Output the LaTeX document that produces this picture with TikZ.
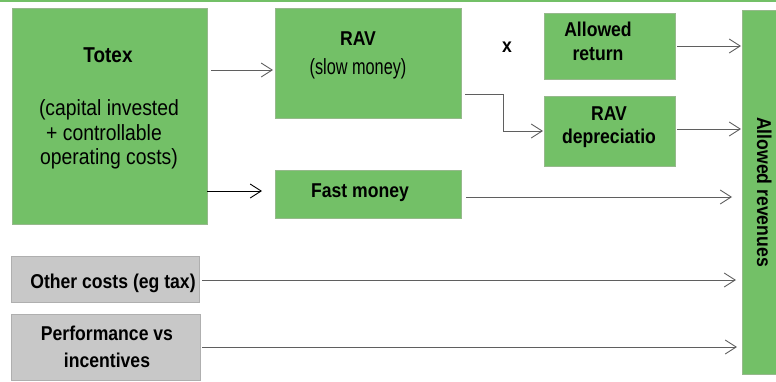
\documentclass[tikz,border=0pt]{standalone}
\usepackage{fontspec}
\setmainfont{Liberation Sans}
\newfontfamily\labb[FakeStretch=0.88]{Liberation Sans}
\newfontfamily\labr[FakeStretch=0.74]{Liberation Sans}
\newfontfamily\labw[FakeStretch=0.88]{Liberation Sans}
\usetikzlibrary{arrows.meta,fit}
\definecolor{gbox}{RGB}{115,192,103}
\definecolor{gedge}{RGB}{150,185,140}
\definecolor{gybox}{RGB}{200,200,200}
\definecolor{gyedge}{RGB}{175,175,175}
\definecolor{lnc}{RGB}{95,95,95}
\tikzset{
  greenbox/.style={fill=gbox, draw=gedge, line width=0.5pt, inner sep=0pt, outer sep=0pt},
  greybox/.style={fill=gybox, draw=gyedge, line width=0.5pt, inner sep=0pt, outer sep=0pt},
  btxt/.style={font=\labb\bfseries\fontsize{20}{24}\selectfont, inner sep=0pt, anchor=base},
  bigtxt/.style={font=\labb\bfseries\fontsize{21.5}{24}\selectfont, inner sep=0pt, anchor=base},
  rtxt/.style={font=\labr\fontsize{22}{25}\selectfont, inner sep=0pt, anchor=base},
  wtxt/.style={font=\labw\fontsize{22}{25}\selectfont, inner sep=0pt, anchor=base},
  arr/.style={draw=lnc, line width=0.9pt, -{Straight Barb[length=11pt,width=14pt]}},
}
\begin{document}
\begin{tikzpicture}[x=1pt,y=-1pt]
\useasboundingbox (0,0) rectangle (776,381);
\fill[gbox] (0,0) rectangle (776,1.6);

% boxes
\node[greenbox, fit={(12,8) (207,224)}] (totex) {};
\node[greenbox, fit={(275,8) (461,118)}] (rav) {};
\node[greenbox, fit={(275,170) (461,218)}] (fast) {};
\node[greenbox, fit={(544,13) (675,79)}] (ret) {};
\node[greenbox, fit={(544,96) (675,166)}] (ravdep) {};
\node[greenbox, fit={(742,10) (776,374)}] (rev) {};
\node[greybox, fit={(11,256) (199,302)}] (other) {};
\node[greybox, fit={(11,314) (200,380)}] (perf) {};

% texts
\node[bigtxt] (totexT) at (108,62) {Totex};
\node[wtxt] (totexL1) at (109,115) {(capital\ invested};
\node[wtxt] (totexL2) at (104,140) {+ controllable};
\node[wtxt] (totexL3) at (109,164.5) {operating\ costs)};
\node[btxt] (ravT) at (358,45) {RAV};
\node[rtxt] (ravL) at (358,74) {(slow money)};
\node[btxt] (fastT) at (360,197) {Fast money};
\node[btxt] (timesT) at (507,52) {x};
\node[btxt] (retL1) at (598,36) {Allowed};
\node[btxt] (retL2) at (598,60) {return};
\node[btxt] (ravdepL1) at (609,120) {RAV};
\node[btxt] (ravdepL2) at (609,143.5) {depreciatio};
\node[btxt, rotate=-90] (revT) at (757,192) {Allowed revenues};
\node[btxt] (otherT) at (113,288) {Other costs (eg tax)};
\node[btxt] (perfL1) at (107,340) {Performance vs};
\node[btxt] (perfL2) at (107,367) {incentives};

% connectors
\coordinate (bend) at (503,94);
\draw[arr, shorten <=4pt, shorten >=2pt] (totex.east |- 0,70) -- (rav.west |- 0,70);
\draw[arr, draw=black, shorten >=13pt] (totex.east |- 0,191) -- (fast.west |- 0,191);
\draw[arr, shorten <=4pt, shorten >=1pt] (rav.east |- bend) -- (bend) |- (ravdep.west);
\draw[arr, shorten <=2pt, shorten >=1pt] (ret.east) -- (rev.west |- ret.east);
\draw[arr, shorten <=2pt, shorten >=1pt] (ravdep.east |- 0,129) -- (rev.west |- 0,129);
\draw[arr, shorten <=5pt, shorten >=10pt] (fast.east |- 0,197) -- (rev.west |- 0,197);
\draw[arr, shorten <=3pt, shorten >=6pt] (other.east |- 0,280) -- (rev.west |- 0,280);
\draw[arr, shorten <=2pt, shorten >=5pt] (perf.east |- 0,347) -- (rev.west |- 0,347);
\end{tikzpicture}
\end{document}
